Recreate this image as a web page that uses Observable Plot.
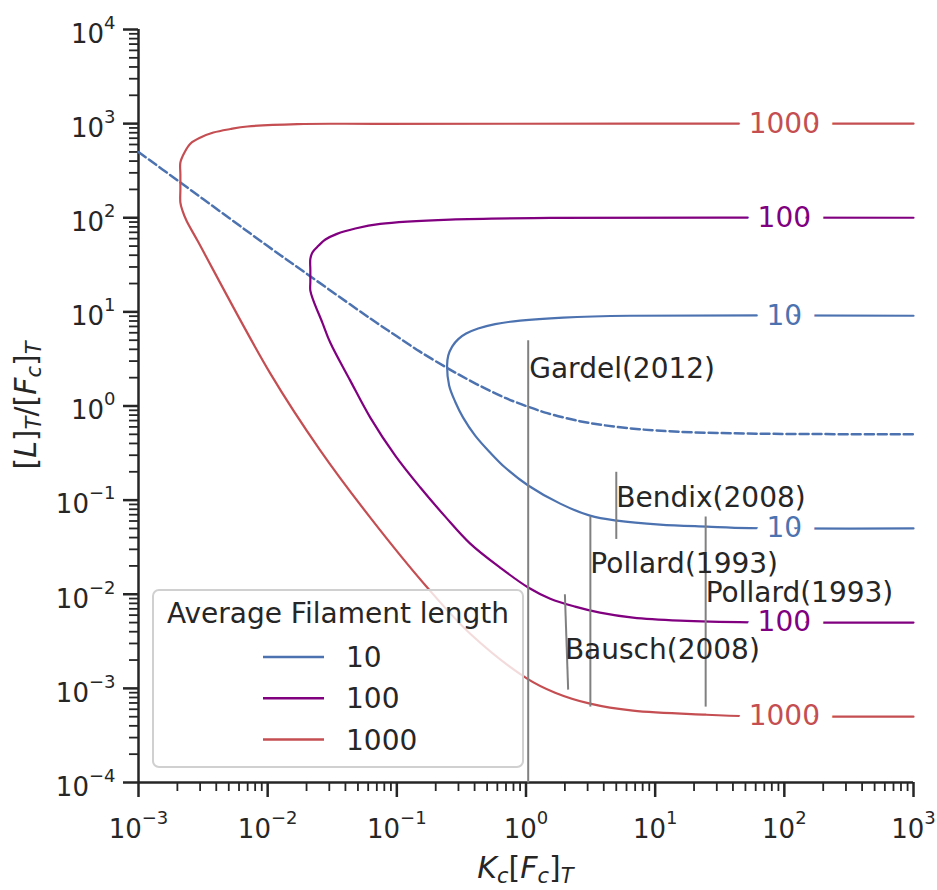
<!DOCTYPE html>
<html>
<head>
<meta charset="utf-8">
<script src="https://cdn.jsdelivr.net/npm/d3@7"></script>
<script src="https://cdn.jsdelivr.net/npm/@observablehq/plot@0.6"></script>
<style>
  body { margin: 0; background: #ffffff; }
  #chart { width: 937px; height: 890px; }
</style>
</head>
<body>
<div id="chart"></div>
<script>
// ---------- data ----------
const seriesNames = ["10", "100", "1000"];
const seriesColors = ["#4c72b0", "#800080", "#c44e52"];

const xDomain = [1e-3, 1e3];
const yDomain = [1e-4, 1e4];
const xTicksMajor = [1e-3, 1e-2, 1e-1, 1, 10, 100, 1000];
const yTicksMajor = [1e-4, 1e-3, 1e-2, 1e-1, 1, 10, 100, 1000, 1e4];

// Average filament length 10 (blue): upper branch from the right, round the turn, lower branch to the right
const len10X = [1000, 6.38, 1.94, 0.900, 0.577, 0.426, 0.344, 0.299, 0.268, 0.250, 0.245, 0.254, 0.283, 0.326, 0.404, 0.528, 0.689, 1.04, 1.84, 3.13, 5.07, 10.9, 25.2, 54.1, 1000];
const len10Y = [9.1, 9.1, 8.70, 8.08, 7.42, 6.65, 5.88, 5.14, 4.28, 3.43, 2.69, 1.65, 1.11, 0.753, 0.485, 0.320, 0.222, 0.143, 0.0918, 0.0684, 0.0605, 0.0549, 0.0523, 0.0505, 0.05];

// Average filament length 100 (purple)
const len100X = [1000, 1.54, 0.259, 0.0744, 0.0477, 0.0344, 0.0280, 0.0241, 0.0222, 0.0214, 0.0214, 0.0214, 0.0214, 0.0226, 0.0265, 0.0305, 0.0436, 0.0623, 0.0972, 0.152, 0.237, 0.370, 0.630, 1.04, 1.54, 2.40, 3.74, 6.73, 15.6, 54.1, 1000];
const len100Y = [100, 99.5, 95.7, 86.1, 76.8, 67.4, 58.7, 48.6, 42.7, 36.6, 28, 21, 16.8, 13.2, 7.70, 4.72, 1.86, 0.753, 0.297, 0.136, 0.0668, 0.0345, 0.0192, 0.0118, 0.00898, 0.00738, 0.00637, 0.00564, 0.00524, 0.00503, 0.005];

// Average filament length 1000 (red)
const len1000X = [1000, 0.0744, 0.0170, 0.00697, 0.00515, 0.00380, 0.00302, 0.00253, 0.00227, 0.00211, 0.00211, 0.00211, 0.00211, 0.00219, 0.00235, 0.00286, 0.0105, 0.0256, 0.0623, 0.172, 0.370, 1.02, 1.68, 3.13, 6.73, 24.7, 54.1, 1000];
const len1000Y = [1000, 995, 990, 932, 876, 804, 712, 614, 493, 386, 290, 200, 145, 119, 93.4, 57.2, 2.21, 0.336, 0.0652, 0.0118, 0.00381, 0.00127, 0.000900, 0.000688, 0.000579, 0.000525, 0.000507, 0.0005];

// dashed boundary line
const dashX = [0.001, 0.002, 0.005, 0.01, 0.02, 0.05, 0.0745, 0.1, 0.15, 0.25, 0.35, 0.5, 0.7, 1, 1.46, 2.6, 4, 6.4, 10, 20, 50, 100, 1000];
const dashY = [500, 250, 100, 50, 25.5, 10.5, 7.2, 5.5, 3.8, 2.5, 1.93, 1.5, 1.21, 1.0, 0.84, 0.69, 0.625, 0.578, 0.55, 0.525, 0.51, 0.505, 0.5];

// inline curve labels
const inlineText = ["1000", "100", "10", "10", "100", "1000"];
const inlineSeries = ["1000", "100", "10", "10", "100", "1000"];
const inlineX = [100, 100, 100, 100, 100, 100];
const inlineY = [1000, 100, 9.1, 0.0505, 0.00503, 0.000505];

// experimental references
const refNames = ["Gardel(2012)", "Bendix(2008)", "Pollard(1993)", "Pollard(1993)", "Bausch(2008)"];
const refXTop = [1.04, 5.0, 3.15, 24.6, 2.0];
const refXBottom = [1.04, 5.0, 3.15, 24.6, 2.12];
const refYTop = [5, 0.2, 0.067, 0.067, 0.01];
const refYBottom = [1e-4, 0.0387, 0.00064, 0.00064, 0.00097];
const refLabelX = [1.06, 5.0, 3.15, 24.6, 2.0];
const refLabelY = [2.5, 0.104, 0.021, 0.0103, 0.00258];

// ---------- build tables ----------
const rows = (xs, ys, name) => xs.map((x, i) => ({x, y: ys[i], name}));
const curves = [
  ...rows(len10X, len10Y, "10"),
  ...rows(len100X, len100Y, "100"),
  ...rows(len1000X, len1000Y, "1000")
];
const dashed = rows(dashX, dashY, "boundary");
const inlineLabels = inlineText.map((t, i) => ({text: t, name: inlineSeries[i], x: inlineX[i], y: inlineY[i]}));
const refs = refNames.map((n, i) => ({name: n, x1: refXTop[i], x2: refXBottom[i], y1: refYTop[i], y2: refYBottom[i], lx: refLabelX[i], ly: refLabelY[i]}));

const minorOf = ticks => ticks.slice(0, -1).flatMap(t => d3.range(2, 10).map(k => k * t));
const xTicksMinor = minorOf(xTicksMajor);
const yTicksMinor = minorOf(yTicksMajor);

const INK = "#262626";
const FONT = "DejaVu Sans";

const plot = Plot.plot({
  width: 937,
  height: 890,
  marginLeft: 138,
  marginRight: 24,
  marginTop: 29,
  marginBottom: 108,
  style: {fontFamily: FONT, color: INK, background: "white", overflow: "visible"},
  x: {type: "log", domain: xDomain},
  y: {type: "log", domain: yDomain},
  color: {domain: seriesNames, range: seriesColors},
  marks: [
    Plot.axisX({ticks: xTicksMinor, tickSize: 9, tickFormat: () => "", strokeWidth: 1.8, stroke: INK, label: null}),
    Plot.axisX({ticks: xTicksMajor, tickSize: 15, tickPadding: 22, tickFormat: d => String(Math.round(Math.log10(d))), fontSize: 26, strokeWidth: 2.5, stroke: INK, fill: INK, label: null}),
    Plot.axisY({ticks: yTicksMinor, tickSize: 9, tickFormat: () => "", strokeWidth: 1.8, stroke: INK, label: null}),
    Plot.axisY({ticks: yTicksMajor, tickSize: 15, tickPadding: 8, tickFormat: d => String(Math.round(Math.log10(d))), fontSize: 26, strokeWidth: 2.5, stroke: INK, fill: INK, label: null}),
    Plot.ruleX([xDomain[0]], {stroke: INK, strokeWidth: 2.5}),
    Plot.ruleY([yDomain[0]], {stroke: INK, strokeWidth: 2.5}),
    Plot.line(dashed, {x: "x", y: "y", stroke: seriesColors[0], strokeWidth: 2.5, strokeDasharray: "9,4", curve: "catmull-rom"}),
    Plot.line(curves, {x: "x", y: "y", z: "name", stroke: "name", strokeWidth: 2.2, curve: "catmull-rom"}),
    Plot.text(inlineLabels, {x: "x", y: "y", text: "text", fill: "name", stroke: "white", strokeWidth: 28, fontSize: 28, fontFamily: FONT}),
    Plot.link(refs, {x1: "x1", y1: "y1", x2: "x2", y2: "y2", stroke: "#808080", strokeWidth: 2}),
    Plot.text(refs, {x: "lx", y: "ly", text: "name", textAnchor: "start", lineAnchor: "middle", fontSize: 28, fontFamily: FONT, fill: INK})
  ]
});

document.getElementById("chart").appendChild(plot);

const svg = d3.select(plot);

// superscript tick labels: 10^k
function supify(sel, baseShift) {
  sel.each(function () {
    const t = d3.select(this);
    const e = t.text();
    if (e === "") return;
    t.text(null);
    t.append("tspan").attr("dy", baseShift).text("10");
    t.append("tspan").attr("font-size", 18).attr("dy", -14).text(e.replace("-", "\u2212"));
  });
}
supify(svg.selectAll('g[aria-label="x-axis tick label"] text'), 0);
supify(svg.selectAll('g[aria-label="y-axis tick label"] text'), 5);

// axis titles with math-like styling
function mathText(g, parts, size) {
  const t = g.append("text").attr("font-family", FONT).attr("font-size", size).attr("fill", INK).attr("text-anchor", "middle");
  let offset = 0;
  for (const p of parts) {
    const target = p.sub ? 5 : 0;
    const ts = t.append("tspan").text(p.t).attr("dy", target - offset);
    offset = target;
    if (p.it) ts.attr("font-style", "italic");
    if (p.sub) ts.attr("font-size", Math.round(size * 0.7));
  }
  return t;
}
const xTitle = [
  {t: "K", it: true}, {t: "c", it: true, sub: true}, {t: "["}, {t: "F", it: true},
  {t: "c", it: true, sub: true}, {t: "]"}, {t: "T", it: true, sub: true}
];
const yTitle = [
  {t: "["}, {t: "L", it: true}, {t: "]"}, {t: "T", it: true, sub: true}, {t: "/"}, {t: "["},
  {t: "F", it: true}, {t: "c", it: true, sub: true}, {t: "]"}, {t: "T", it: true, sub: true}
];
mathText(svg.append("g").attr("transform", "translate(525.5,878)"), xTitle, 30);
mathText(svg.append("g").attr("transform", "translate(36,405.5) rotate(-90)"), yTitle, 30);

// legend
const lg = svg.append("g").attr("transform", "translate(153,590)");
lg.append("rect").attr("width", 370).attr("height", 177).attr("rx", 6)
  .attr("fill", "white").attr("fill-opacity", 0.8).attr("stroke", "#d0d0d0").attr("stroke-width", 2);
lg.append("text").attr("x", 185).attr("y", 33).attr("text-anchor", "middle")
  .attr("font-family", FONT).attr("font-size", 28).attr("fill", INK).text("Average Filament length");
seriesNames.forEach((n, i) => {
  const yy = 67 + i * 41.3;
  lg.append("line").attr("x1", 110).attr("x2", 171).attr("y1", yy).attr("y2", yy)
    .attr("stroke", seriesColors[i]).attr("stroke-width", 2.5);
  lg.append("text").attr("x", 193).attr("y", yy + 10).attr("text-anchor", "start")
    .attr("font-family", FONT).attr("font-size", 28).attr("fill", INK).text(n);
});
</script>
</body>
</html>
